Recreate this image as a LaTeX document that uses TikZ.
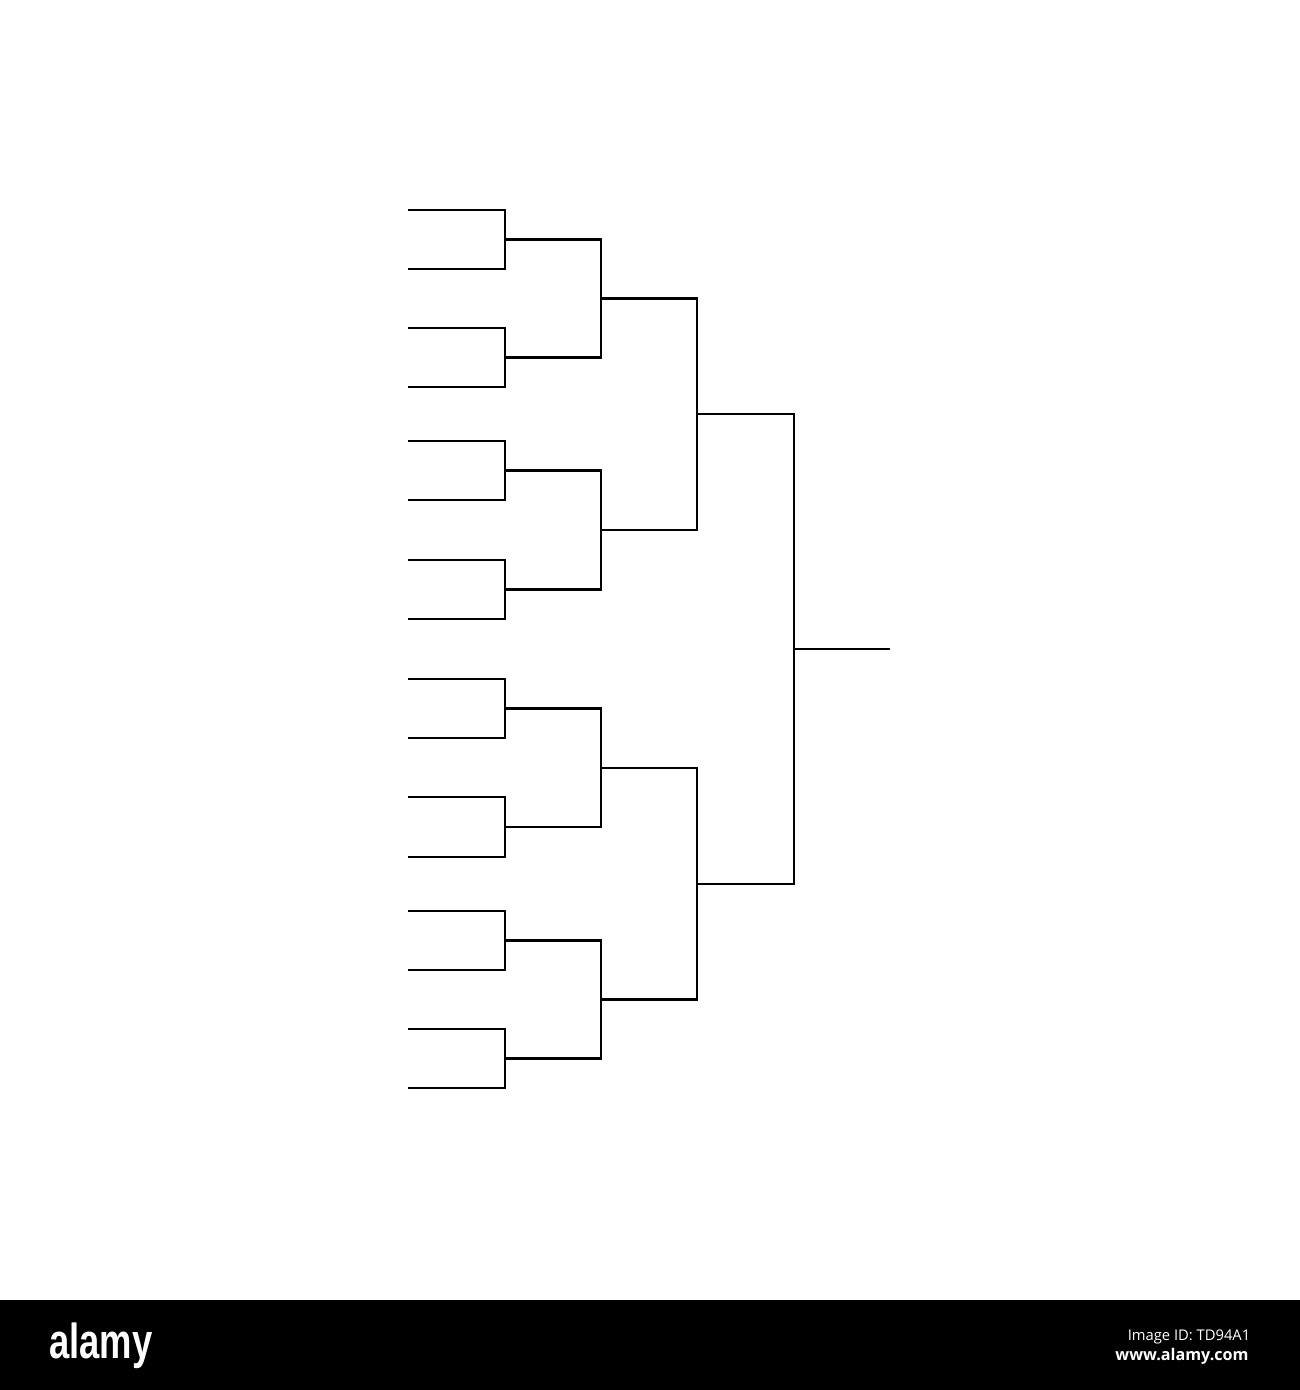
\documentclass[tikz,border=0pt]{standalone}
\usepackage{fontspec}
\setmainfont{Liberation Sans}
\newfontfamily\idfont{Open Sans}
\tikzset{
	bracket/.style={line width=0.7pt, color=black},
	logo/.style={text=white, inner sep=0pt, font=\fontsize{14}{14}\selectfont\bfseries, xscale=0.74, transform shape},
	idtext/.style={text=white, inner sep=0pt, font=\idfont\fontsize{4.2}{4.2}\selectfont}
}
\begin{document}
\begin{tikzpicture}
			%%%%% START %%%%%
			\useasboundingbox (0, 0) rectangle (13, -13.9);
			
			% first round
			\coordinate (p1) at (4.08, -2.10);
			\coordinate (p2) at (4.08, -2.69);
			\coordinate (p3) at (4.08, -3.28);
			\coordinate (p4) at (4.08, -3.87);
			\coordinate (p5) at (4.08, -4.41);
			\coordinate (p6) at (4.08, -5.00);
			\coordinate (p7) at (4.08, -5.60);
			\coordinate (p8) at (4.08, -6.19);
			\coordinate (p9) at (4.08, -6.79);
			\coordinate (p10) at (4.08, -7.38);
			\coordinate (p11) at (4.08, -7.97);
			\coordinate (p12) at (4.08, -8.57);
			\coordinate (p13) at (4.08, -9.11);
			\coordinate (p14) at (4.08, -9.70);
			\coordinate (p15) at (4.08, -10.29);
			\coordinate (p16) at (4.08, -10.88);
			
			% second round
			\coordinate (q1) at (5.05, -2.395);
			\coordinate (q2) at (5.05, -3.575);
			\coordinate (q3) at (5.05, -4.705);
			\coordinate (q4) at (5.05, -5.895);
			\coordinate (q5) at (5.05, -7.085);
			\coordinate (q6) at (5.05, -8.27);
			\coordinate (q7) at (5.05, -9.405);
			\coordinate (q8) at (5.05, -10.585);
			
			% quarter and semi
			\coordinate (r1) at (6.01, -2.985);
			\coordinate (r2) at (6.01, -5.30);
			\coordinate (r3) at (6.01, -7.68);
			\coordinate (r4) at (6.01, -9.995);
			\coordinate (s1) at (6.97, -4.14);
			\coordinate (s2) at (6.97, -8.84);
			\coordinate (fin) at (7.94, -6.49);
			\coordinate (champ) at (8.90, -6.49);
			
			\draw[bracket] (p1) -| (q1) |- (p2);
			\draw[bracket] (p3) -| (q2) |- (p4);
			\draw[bracket] (p5) -| (q3) |- (p6);
			\draw[bracket] (p7) -| (q4) |- (p8);
			\draw[bracket] (p9) -| (q5) |- (p10);
			\draw[bracket] (p11) -| (q6) |- (p12);
			\draw[bracket] (p13) -| (q7) |- (p14);
			\draw[bracket] (p15) -| (q8) |- (p16);
			
			\draw[bracket] (q1) -| (r1) |- (q2);
			\draw[bracket] (q3) -| (r2) |- (q4);
			\draw[bracket] (q5) -| (r3) |- (q6);
			\draw[bracket] (q7) -| (r4) |- (q8);
			
			\draw[bracket] (r1) -| (s1) |- (r2);
			\draw[bracket] (r3) -| (s2) |- (r4);
			
			\draw[bracket] (s1) -| (fin) |- (s2);
			\draw[bracket] (fin) -- (champ);
			
			% bottom strip
			\fill[black] (0, -13.00) rectangle (13, -13.90);
			\node[logo, anchor=base] (brand) at (1.01, -13.58) {alamy};
			\node[idtext, anchor=base] (imgid) at (11.89, -13.40) {Image ID: TD94A1};
			\node[idtext, font=\idfont\fontsize{4.6}{4.6}\selectfont\bfseries, anchor=base] (site) at (11.82, -13.60) {www.alamy.com};
			
			%%%%% END %%%%%
		\end{tikzpicture}
\end{document}
